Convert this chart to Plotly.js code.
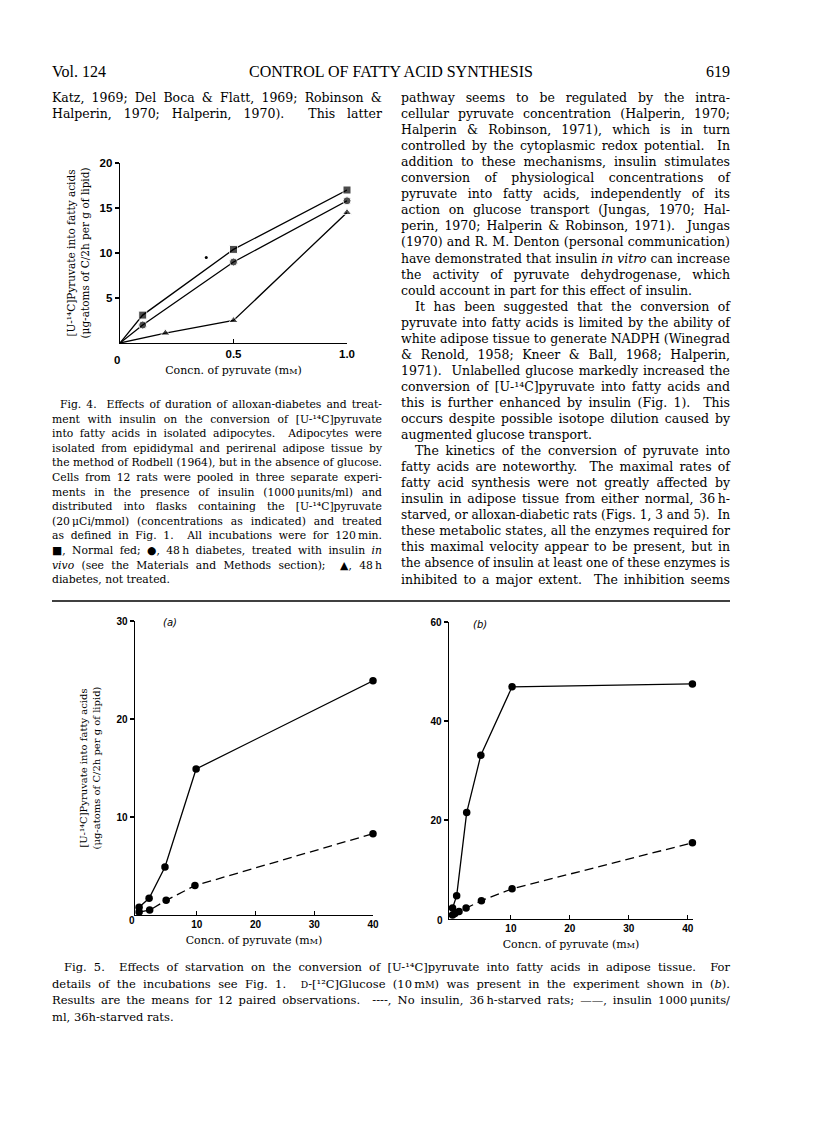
<!DOCTYPE html>
<html><head><meta charset="utf-8">
<script src="https://cdn.plot.ly/plotly-3.0.1.min.js"></script>
<style>
body{margin:0;background:#fff;}
#page{position:relative;width:816px;height:1136px;overflow:hidden;background:#fff;}
#plot{position:absolute;left:0;top:0;width:816px;height:1136px;}
.ln{position:absolute;white-space:pre;color:#000;}
</style></head><body>
<div id="page"><div id="plot"></div></div>
<script>
// ---------- DATA ----------
// Fig. 4  (concentration of pyruvate, mM  ->  ug-atoms of C/2h per g lipid)
var fig4NormalX   = [0, 0.1, 0.5, 1.0];
var fig4NormalY   = [0, 3.1, 10.4, 17.0];
var fig4TreatedX  = [0, 0.1, 0.5, 1.0];
var fig4TreatedY  = [0, 2.0, 9.0, 15.8];
var fig4UntreatX  = [0, 0.2, 0.5, 1.0];
var fig4UntreatY  = [0, 1.1, 2.5, 14.5];
var fig4SpeckX    = [0.38];
var fig4SpeckY    = [9.5];
var fig4XTicks    = [0.5, 1.0];
var fig4XTickText = ['0.5', '1.0'];
var fig4YTicks    = [5, 10, 15, 20];

// Fig. 5(a)
var fig5aInsulinX = [0.2, 1.9, 4.6, 9.9, 40];
var fig5aInsulinY = [0.8, 1.7, 4.9, 14.9, 23.9];
var fig5aNoInsX   = [0.2, 2.0, 4.8, 9.7, 40];
var fig5aNoInsY   = [0.3, 0.5, 1.5, 3.0, 8.3];
var fig5aYTicks   = [10, 20, 30];

// Fig. 5(b)
var fig5bInsulinX = [0.1, 0.8, 2.5, 4.9, 10.2, 40.8];
var fig5bInsulinY = [2.2, 4.7, 21.5, 33.1, 46.9, 47.5];
var fig5bNoInsX   = [0.1, 0.5, 1.2, 2.4, 5.0, 10.2, 40.8];
var fig5bNoInsY   = [0.8, 1.1, 1.5, 2.2, 3.7, 6.1, 15.4];
var fig5bYTicks   = [20, 40, 60];

var fig5XTicks    = [10, 20, 30, 40];

// ---------- TEXT ----------
var headerLeft = 'Vol. 124';
var headerTitle = 'CONTROL OF FATTY ACID SYNTHESIS';
var headerRight = '619';

var leftTopLines = [
 'Katz, 1969; Del Boca & Flatt, 1969; Robinson &',
 'Halperin, 1970; Halperin, 1970).  This latter'
];
var fig4CaptionLines = [
 'Fig. 4.  Effects of duration of alloxan-diabetes and treat-',
 'ment with insulin on the conversion of [U-\u00b9\u2074C]pyruvate',
 'into fatty acids in isolated adipocytes.  Adipocytes were',
 'isolated from epididymal and perirenal adipose tissue by',
 'the method of Rodbell (1964), but in the absence of glucose.',
 'Cells from 12 rats were pooled in three separate experi-',
 'ments in the presence of insulin (1000\u202f\u03bcunits/ml) and',
 'distributed into flasks containing the [U-\u00b9\u2074C]pyruvate',
 '(20\u202f\u03bcCi/mmol) (concentrations as indicated) and treated',
 'as defined in Fig. 1.  All incubations were for 120\u202fmin.',
 '\u25a0, Normal fed; \u25cf, 48\u202fh diabetes, treated with insulin <i>in</i>',
 '<i>vivo</i> (see the Materials and Methods section);  \u25b2, 48\u202fh',
 'diabetes, not treated.'
];
var rightLines = [
 'pathway seems to be regulated by the intra-',
 'cellular pyruvate concentration (Halperin, 1970;',
 'Halperin & Robinson, 1971), which is in turn',
 'controlled by the cytoplasmic redox potential.  In',
 'addition to these mechanisms, insulin stimulates',
 'conversion of physiological concentrations of',
 'pyruvate into fatty acids, independently of its',
 'action on glucose transport (Jungas, 1970; Hal-',
 'perin, 1970; Halperin & Robinson, 1971).  Jungas',
 '(1970) and R. M. Denton (personal communication)',
 'have demonstrated that insulin <i>in vitro</i> can increase',
 'the activity of pyruvate dehydrogenase, which',
 'could account in part for this effect of insulin.',
 'It has been suggested that the conversion of',
 'pyruvate into fatty acids is limited by the ability of',
 'white adipose tissue to generate NADPH (Winegrad',
 '& Renold, 1958; Kneer & Ball, 1968; Halperin,',
 '1971).  Unlabelled glucose markedly increased the',
 'conversion of [U-\u00b9\u2074C]pyruvate into fatty acids and',
 'this is further enhanced by insulin (Fig. 1).  This',
 'occurs despite possible isotope dilution caused by',
 'augmented glucose transport.',
 'The kinetics of the conversion of pyruvate into',
 'fatty acids are noteworthy.  The maximal rates of',
 'fatty acid synthesis were not greatly affected by',
 'insulin in adipose tissue from either normal, 36\u202fh-',
 'starved, or alloxan-diabetic rats (Figs. 1, 3 and 5).  In',
 'these metabolic states, all the enzymes required for',
 'this maximal velocity appear to be present, but in',
 'the absence of insulin at least one of these enzymes is',
 'inhibited to a major extent.  The inhibition seems'
];
var rightParaEnds = [12, 21];
var rightParaStarts = [13, 22];
var fig5CaptionLines = [
 'Fig. 5.  Effects of starvation on the conversion of [U-\u00b9\u2074C]pyruvate into fatty acids in adipose tissue.  For',
 'details of the incubations see Fig. 1.  <span style="font-size:0.8em">D</span>-[\u00b9\u00b2C]Glucose (10\u202fm<span style="font-size:0.8em">M</span>) was present in the experiment shown in (<i>b</i>).',
 'Results are the means for 12 paired observations.  ----, No insulin, 36\u202fh-starved rats; \u2014\u2014, insulin 1000\u202f\u03bcunits/',
 'ml, 36h-starved rats.'
];

var xTitle = 'Concn. of pyruvate (m<span style="font-size:8px">M</span>)';
var yTitle = '[U-\u00b9\u2074C]Pyruvate into fatty acids<br>(\u03bcg-atoms of C/2h per g of lipid)';

// ---------- CHARTS ----------
var W = 816, H = 1136, K = '#000';
function px(x){return x/W;}
function py(y){return 1 - y/H;}
function markerSizes(xs, s){return xs.map(function(v){return v===0?0:s;});}

var traces = [
 {x:fig4NormalX, y:fig4NormalY, xaxis:'x', yaxis:'y', mode:'lines+markers', name:'Normal fed',
  line:{color:K,width:1.3}, marker:{symbol:'square',size:markerSizes(fig4NormalX,8),color:K}, cliponaxis:false},
 {x:fig4TreatedX, y:fig4TreatedY, xaxis:'x', yaxis:'y', mode:'lines+markers', name:'48 h diabetes, insulin in vivo',
  line:{color:K,width:1.3}, marker:{symbol:'circle',size:markerSizes(fig4TreatedX,8),color:K}, cliponaxis:false},
 {x:fig4UntreatX, y:fig4UntreatY, xaxis:'x', yaxis:'y', mode:'lines+markers', name:'48 h diabetes, not treated',
  line:{color:K,width:1.3}, marker:{symbol:'triangle-up',size:markerSizes(fig4UntreatX,8),color:K}, cliponaxis:false},
 {x:fig4SpeckX, y:fig4SpeckY, xaxis:'x', yaxis:'y', mode:'markers', name:'', marker:{size:3,color:K}},
 {x:fig5aInsulinX, y:fig5aInsulinY, xaxis:'x2', yaxis:'y2', mode:'lines+markers', name:'insulin',
  line:{color:K,width:1.3}, marker:{size:7.5,color:K}, cliponaxis:false},
 {x:fig5aNoInsX, y:fig5aNoInsY, xaxis:'x2', yaxis:'y2', mode:'lines+markers', name:'no insulin',
  line:{color:K,width:1.3,dash:'9px,5px'}, marker:{size:7.5,color:K}, cliponaxis:false},
 {x:fig5bInsulinX, y:fig5bInsulinY, xaxis:'x3', yaxis:'y3', mode:'lines+markers', name:'insulin',
  line:{color:K,width:1.3}, marker:{size:7.5,color:K}, cliponaxis:false},
 {x:fig5bNoInsX, y:fig5bNoInsY, xaxis:'x3', yaxis:'y3', mode:'lines+markers', name:'no insulin',
  line:{color:K,width:1.3,dash:'9px,5px'}, marker:{size:7.5,color:K}, cliponaxis:false}
];

function ax(o){
  return Object.assign({showline:true, linecolor:K, linewidth:1.4, showgrid:false, zeroline:false,
    ticks:'outside', ticklen:4, tickwidth:1.2, tickcolor:K, tickmode:'array', fixedrange:true,
    tickfont:{family:'Liberation Sans', size:11.5, color:K, weight:'bold'}}, o);
}
var tf5 = {family:'Liberation Sans', size:10, color:K, weight:'bold'};

var layout = {
  width:W, height:H, margin:{l:0,r:0,t:0,b:0}, showlegend:false,
  paper_bgcolor:'rgba(0,0,0,0)', plot_bgcolor:'rgba(0,0,0,0)',
  xaxis: ax({domain:[px(120),px(347)], range:[0,1], anchor:'y', ticks:'inside',
    tickvals:fig4XTicks, ticktext:fig4XTickText,
    title:{text:xTitle, font:{family:'DejaVu Serif', size:11, color:K}, standoff:7}}),
  yaxis: ax({domain:[py(343),py(163)], range:[0,20], anchor:'x', tickvals:fig4YTicks,
    title:{text:yTitle, font:{family:'DejaVu Serif', size:10.5, color:K}, standoff:8}}),
  xaxis2: ax({domain:[px(135),px(373)], range:[-0.5,40], anchor:'y2', ticks:'inside',
    tickvals:fig5XTicks, tickfont:tf5,
    title:{text:xTitle, font:{family:'DejaVu Serif', size:11, color:K}, standoff:7}}),
  yaxis2: ax({domain:[py(915),py(621)], range:[0,30], anchor:'x2', tickvals:fig5aYTicks, tickfont:tf5,
    title:{text:yTitle, font:{family:'DejaVu Serif', size:10, color:K}, standoff:14}}),
  xaxis3: ax({domain:[px(449),px(693)], range:[-0.5,40.9], anchor:'y3', ticks:'inside',
    tickvals:fig5XTicks, tickfont:tf5,
    title:{text:xTitle, font:{family:'DejaVu Serif', size:11, color:K}, standoff:7}}),
  yaxis3: ax({domain:[py(919),py(622)], range:[0,60], anchor:'x3', tickvals:fig5bYTicks, tickfont:tf5}),
  annotations:[
    {text:'0', xref:'paper', yref:'paper', x:px(112), y:py(352), showarrow:false,
     font:{family:'Liberation Sans', size:11.5, color:K, weight:'bold'}},
    {text:'0', xref:'paper', yref:'paper', x:px(127), y:py(928), showarrow:false, font:tf5},
    {text:'0', xref:'paper', yref:'paper', x:px(440), y:py(928), showarrow:false, font:tf5},
    {text:'<i>(a)</i>', xref:'paper', yref:'paper', x:px(161), y:py(622), showarrow:false,
     font:{family:'DejaVu Sans', size:10, color:K}},
    {text:'<i>(b)</i>', xref:'paper', yref:'paper', x:px(480), y:py(624), showarrow:false,
     font:{family:'DejaVu Sans', size:10, color:K}}
  ],
  shapes:[
    {type:'line', xref:'paper', yref:'paper', x0:px(52), x1:px(730), y0:py(601), y1:py(601),
     line:{color:K, width:1.6}}
  ]
};
Plotly.newPlot('plot', traces, layout, {staticPlot:true, displayModeBar:false});

// ---------- PAGE TEXT ----------
var page = document.getElementById('page');
function addLine(html, x, yc, width, font, size, lh, mode){
  var d = document.createElement('div');
  d.className = 'ln';
  d.style.fontFamily = font; d.style.fontSize = size+'px'; d.style.lineHeight = lh+'px';
  d.style.top = (yc - lh/2) + 'px';
  d.innerHTML = html;
  page.appendChild(d);
  var w = d.getBoundingClientRect().width;
  if (mode === 'center') { d.style.left = (x - w/2) + 'px'; return; }
  if (mode === 'right') { d.style.left = (x - w) + 'px'; return; }
  d.style.left = x + 'px';
  if (!(width > 0)) return;
  if (mode === 'justify') {
    var n = (d.textContent.match(/ /g) || []).length;
    if (w < width && n > 0) d.style.wordSpacing = ((width - w)/n) + 'px';
    else if (w > width) { d.style.transformOrigin = 'left center'; d.style.transform = 'scaleX(' + (width/w) + ')'; }
  } else if (w > width) {
    d.style.transformOrigin = 'left center'; d.style.transform = 'scaleX(' + (width/w) + ')';
  }
}
function layoutText(){
  var body = 'DejaVu Serif';
  addLine(headerLeft, 52, 72, 0, 'Liberation Serif', 16, 18, 'left');
  addLine(headerTitle, 391, 72, 0, 'Liberation Serif', 16, 18, 'center');
  addLine(headerRight, 730, 72, 0, 'Liberation Serif', 16, 18, 'right');
  leftTopLines.forEach(function(t,i){ addLine(t, 52, 98 + i*16.05, 330, body, 12.5, 16, 'justify'); });
  rightLines.forEach(function(t,i){
    var indent = rightParaStarts.indexOf(i) >= 0 ? 14 : 0;
    var mode = rightParaEnds.indexOf(i) >= 0 ? 'left' : 'justify';
    addLine(t, 401 + indent, 98 + i*16.05, 329 - indent, body, 12.5, 16, mode);
  });
  fig4CaptionLines.forEach(function(t,i){
    var indent = i === 0 ? 8 : 0;
    var mode = i === fig4CaptionLines.length - 1 ? 'left' : 'justify';
    addLine(t, 52 + indent, 405 + i*14.6, 330 - indent, body, 10.8, 14, mode);
  });
  fig5CaptionLines.forEach(function(t,i){
    var indent = i === 0 ? 12 : 0;
    var mode = i === fig5CaptionLines.length - 1 ? 'left' : 'justify';
    addLine(t, 52 + indent, 967 + i*16.5, 678 - indent, body, 11.5, 16, mode);
  });
}
if (document.fonts && document.fonts.ready) { document.fonts.ready.then(layoutText); } else { layoutText(); }
</script>
</body></html>
